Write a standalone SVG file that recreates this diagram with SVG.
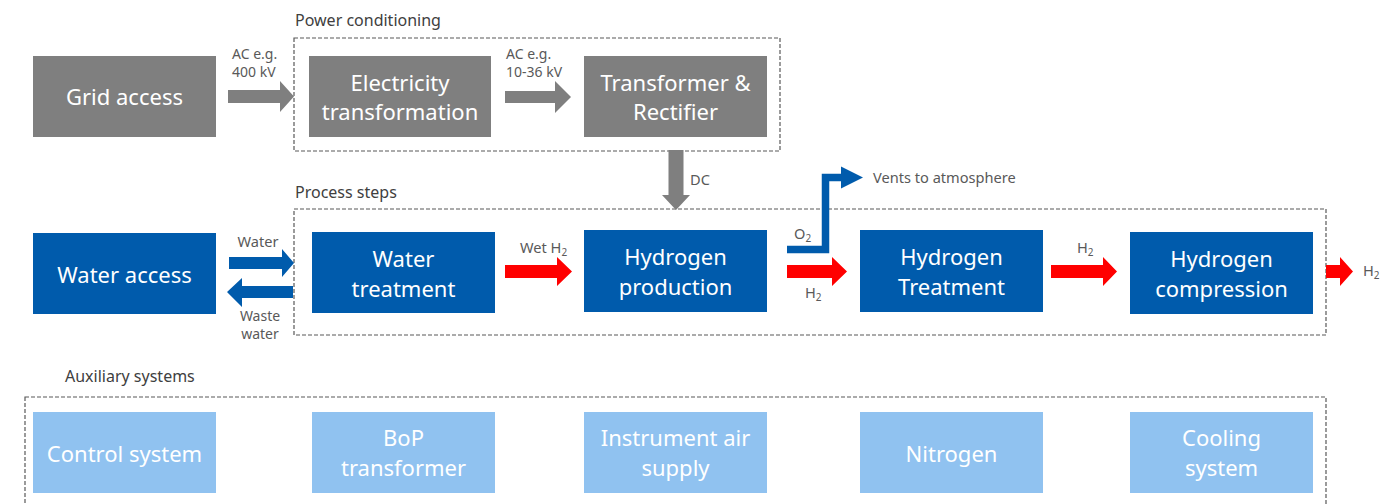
<svg xmlns="http://www.w3.org/2000/svg" width="1395" height="504" viewBox="0 0 1395 504">
<style>
.gray{fill:#7f7f7f}
.blue{fill:#005bac}
.light{fill:#90c2f0}
.bt{font-family:"Noto Sans",sans-serif;font-size:22px;fill:#fff;text-anchor:middle}
.lab{font-family:"Noto Sans",sans-serif;font-size:14.6px;fill:#595959}
.lab2{font-family:"Noto Sans",sans-serif;font-size:14px;fill:#595959}
.sec{font-family:"Noto Sans",sans-serif;font-size:16px;fill:#404040}
.dash{fill:none;stroke:#595959;stroke-width:1.2;stroke-dasharray:4 2}
.ga{fill:#7f7f7f}
.ra{fill:#ff0000}
.ba{fill:#005bac}
</style>
<rect width="1395" height="504" fill="#fff"/>
<g id="frames">
<rect class="dash" x="294" y="38" width="486" height="113"/>
<text class="sec" x="295" y="26">Power conditioning</text>
<rect class="dash" x="294" y="209" width="1032" height="126"/>
<text class="sec" x="295" y="198">Process steps</text>
<rect class="dash" x="25" y="397" width="1301" height="120"/>
<text class="sec" x="65" y="382">Auxiliary systems</text>
</g>
<g id="grid-access"><rect class="gray" x="33" y="56" width="183" height="81"/><text class="bt" x="124.5" y="105">Grid access</text></g>
<g id="electricity-transformation"><rect class="gray" x="309" y="56" width="182" height="81"/><text class="bt" x="400" y="91">Electricity</text><text class="bt" x="400" y="120">transformation</text></g>
<g id="transformer-rectifier"><rect class="gray" x="584" y="56" width="183" height="81"/><text class="bt" x="675.5" y="91">Transformer &amp;</text><text class="bt" x="675.5" y="120">Rectifier</text></g>
<g id="water-access"><rect class="blue" x="33" y="233" width="183" height="81"/><text class="bt" x="124.5" y="283">Water access</text></g>
<g id="water-treatment"><rect class="blue" x="312" y="232" width="183" height="81"/><text class="bt" x="403.5" y="267">Water</text><text class="bt" x="403.5" y="297">treatment</text></g>
<g id="hydrogen-production"><rect class="blue" x="584" y="230" width="183" height="82"/><text class="bt" x="675.5" y="265">Hydrogen</text><text class="bt" x="675.5" y="295">production</text></g>
<g id="hydrogen-treatment"><rect class="blue" x="860" y="230" width="183" height="82"/><text class="bt" x="951.5" y="265">Hydrogen</text><text class="bt" x="951.5" y="295">Treatment</text></g>
<g id="hydrogen-compression"><rect class="blue" x="1130" y="232" width="183" height="82"/><text class="bt" x="1221.5" y="267">Hydrogen</text><text class="bt" x="1221.5" y="297">compression</text></g>
<g id="control-system"><rect class="light" x="33" y="412" width="183" height="81"/><text class="bt" x="124.5" y="462">Control system</text></g>
<g id="bop-transformer"><rect class="light" x="312" y="412" width="183" height="81"/><text class="bt" x="403.5" y="446">BoP</text><text class="bt" x="403.5" y="476">transformer</text></g>
<g id="instrument-air"><rect class="light" x="584" y="412" width="183" height="81"/><text class="bt" x="675.5" y="446">Instrument air</text><text class="bt" x="675.5" y="476">supply</text></g>
<g id="nitrogen"><rect class="light" x="860" y="412" width="183" height="81"/><text class="bt" x="951.5" y="462">Nitrogen</text></g>
<g id="cooling-system"><rect class="light" x="1130" y="412" width="183" height="81"/><text class="bt" x="1221.5" y="446">Cooling</text><text class="bt" x="1221.5" y="476">system</text></g>
<g id="connectors">
<polygon class="ga" points="228,90 280,90 280,81 294,96.5 280,112 280,103 228,103"/>
<text class="lab2" x="232" y="59">AC e.g.</text><text class="lab2" x="232" y="77">400 kV</text>
<polygon class="ga" points="505,91 555,91 555,81 571,97 555,113 555,103 505,103"/>
<text class="lab2" x="506" y="59">AC e.g.</text><text class="lab2" x="506" y="77">10-36 kV</text>
<polygon class="ga" points="668.5,150 683.5,150 683.5,195 690,195 676,210 662,195 668.5,195"/>
<text class="lab" x="690" y="185">DC</text>
<polygon class="ba" points="229,257 282,257 282,249 294,263 282,277 282,269 229,269"/>
<text class="lab" x="258" y="247" text-anchor="middle">Water</text>
<polygon class="ba" points="293,286 242,286 242,278 227,292 242,307 242,298 293,298"/>
<text class="lab2" x="260" y="321" text-anchor="middle">Waste</text><text class="lab2" x="260" y="339" text-anchor="middle">water</text>
<polygon class="ra" points="505,265 557,265 557,257 572,271.5 557,286 557,278 505,278"/>
<text class="lab" x="520" y="253">Wet H<tspan font-size="10" dy="3">2</tspan></text>
<polyline points="787,249.5 825.5,249.5 825.5,177.5 843,177.5" fill="none" stroke="#005bac" stroke-width="7.5"/>
<polygon class="ba" points="841,166.5 863,177.5 841,188.5"/>
<text class="lab" x="794" y="239">O<tspan font-size="10" dy="3">2</tspan></text>
<text class="lab" x="873" y="183">Vents to atmosphere</text>
<polygon class="ra" points="787,265 832,265 832,257 847,271.5 832,286 832,278 787,278"/>
<text class="lab" x="805" y="298">H<tspan font-size="10" dy="3">2</tspan></text>
<polygon class="ra" points="1051,265 1103,265 1103,257 1117,271.5 1103,286 1103,278 1051,278"/>
<text class="lab" x="1077" y="253">H<tspan font-size="10" dy="3">2</tspan></text>
<polygon class="ra" points="1326,265 1340,265 1340,257 1353,271.5 1340,286 1340,278 1326,278"/>
<text class="lab" x="1363" y="276">H<tspan font-size="10" dy="3">2</tspan></text>
</g>
</svg>
